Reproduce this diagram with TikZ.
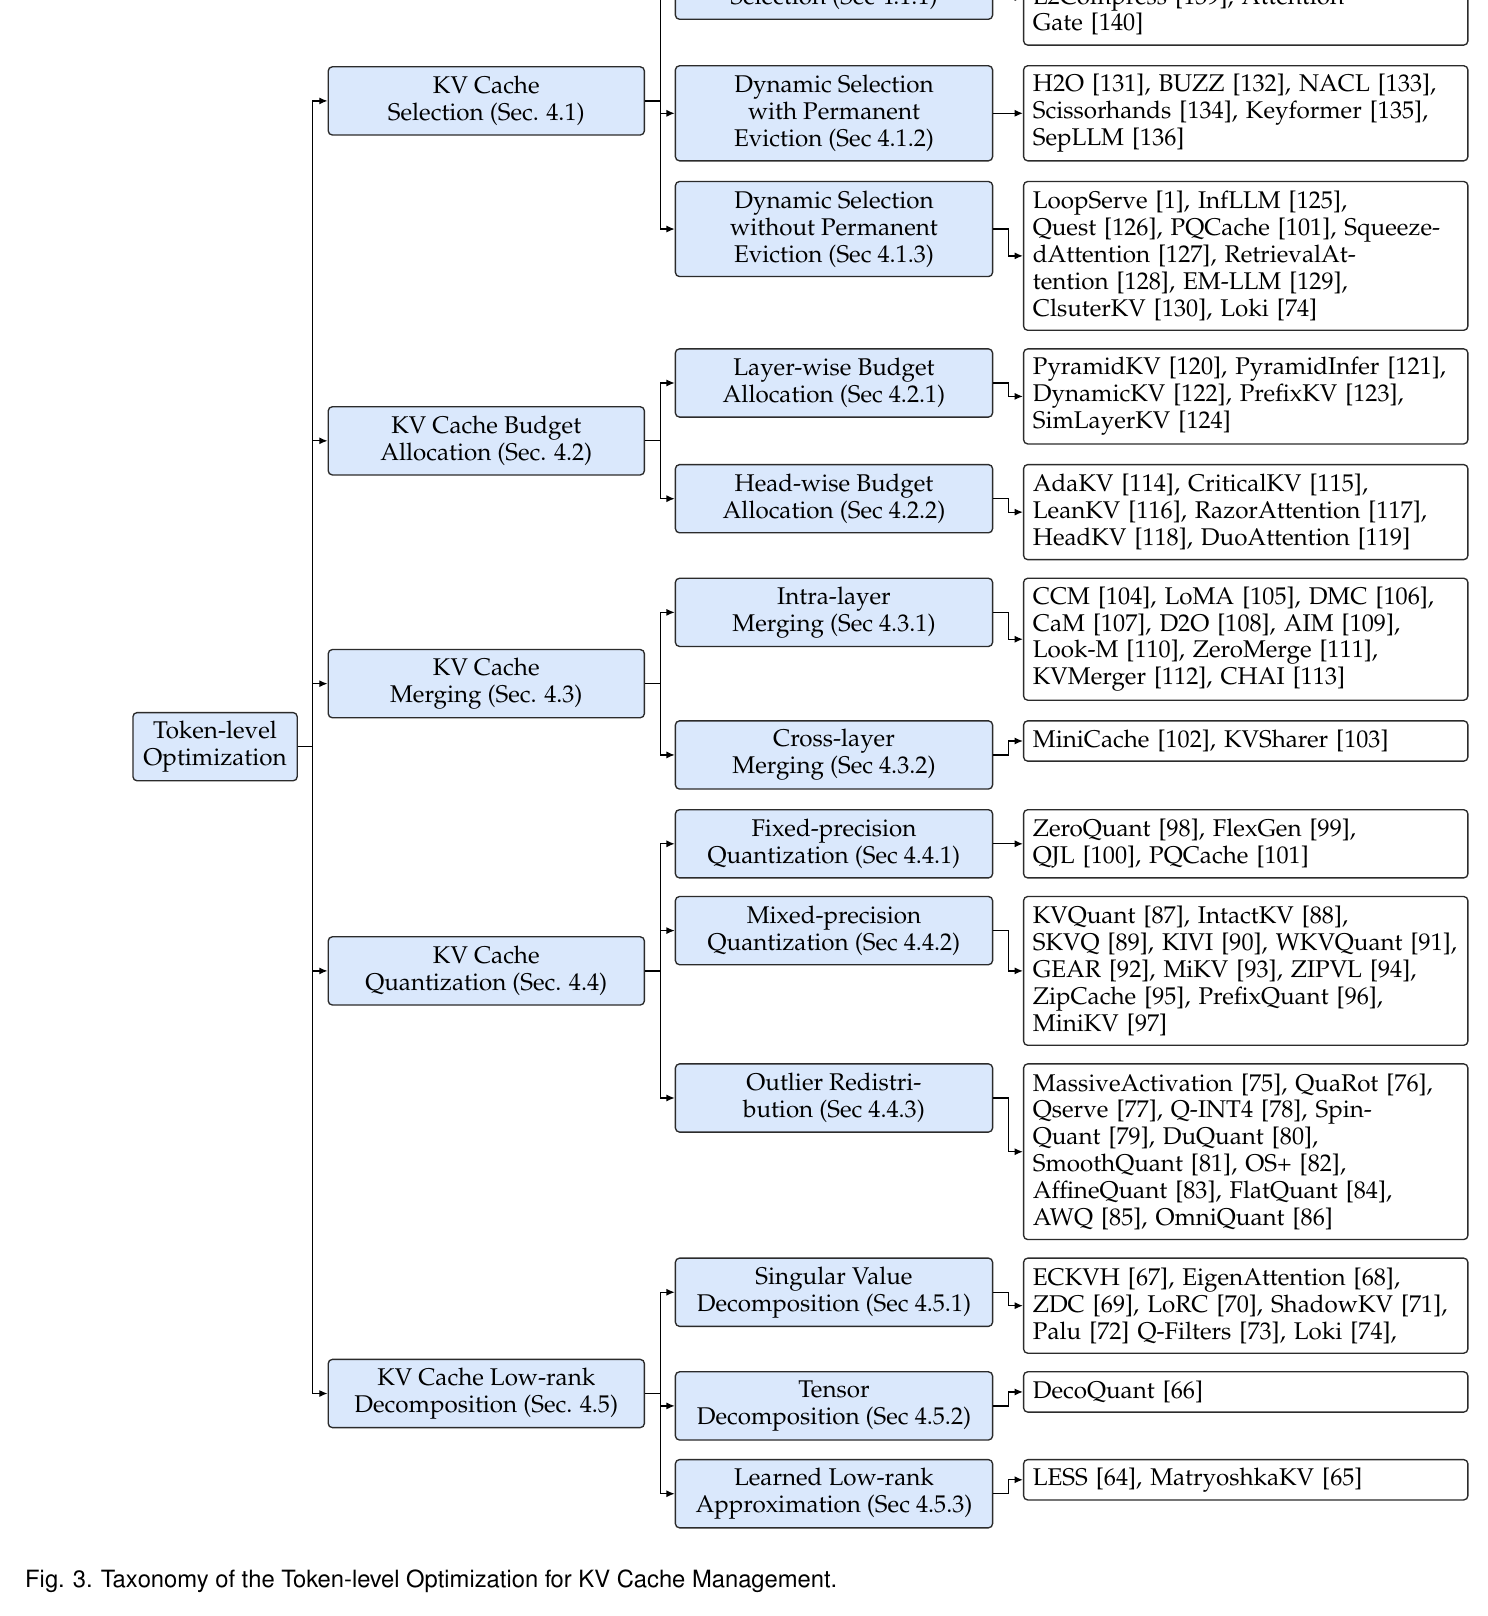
\documentclass[tikz,border=0pt]{standalone}
\usepackage[T1]{fontenc}
\usepackage{mathpazo}
\usetikzlibrary{arrows.meta}
\definecolor{boxblue}{HTML}{DAE8FC}
\definecolor{boxline}{HTML}{2B2B2B}
\tikzset{
  base/.style={draw=boxline, line width=0.65pt, rounded corners=2pt, inner xsep=4.5pt, inner ysep=1pt,
    font=\fontsize{11.7}{13}\selectfont, anchor=north west},
  catbox/.style={base, fill=boxblue, align=center},
  rootbox/.style={catbox, minimum width=79.5pt},
  lonebox/.style={catbox, minimum width=153pt},
  ltwobox/.style={catbox, minimum width=153.5pt},
  leafbox/.style={base, fill=white, align=left, text width=206pt},
  n1/.style={minimum height=19.5pt},
  n2/.style={minimum height=33pt},
  n3/.style={minimum height=46pt},
  n4/.style={minimum height=59pt},
  n5/.style={minimum height=72pt},
  n6/.style={minimum height=85pt},
  conn/.style={draw=black, line width=0.6pt, -{Latex[length=4pt,width=3.4pt]}},
}
\begin{document}
\begin{tikzpicture}[x=0.5pt, y=-0.5pt]
\useasboundingbox (0,0) rectangle (1440,1564);
% root
\node[rootbox, n2] (root) at (128,689) {Token-level\\Optimization};
% level 1
\node[lonebox, n2] (s41) at (317,64) {KV Cache\\Selection (Sec. 4.1)};
\node[lonebox, n2] (b42) at (317,393) {KV Cache Budget\\Allocation (Sec. 4.2)};
\node[lonebox, n2] (m43) at (317,628) {KV Cache\\Merging (Sec. 4.3)};
\node[lonebox, n2] (q44) at (317,906) {KV Cache\\Quantization (Sec. 4.4)};
\node[lonebox, n2] (d45) at (317,1315) {KV Cache Low-rank\\Decomposition (Sec. 4.5)};
% level 2
\node[ltwobox, n2] (s411) at (653,-48) {Static KV Cache\\Selection (Sec 4.1.1)};
\node[ltwobox, n3] (s412) at (653,63) {Dynamic Selection\\with Permanent\\Eviction (Sec 4.1.2)};
\node[ltwobox, n3] (s413) at (653,175) {Dynamic Selection\\without Permanent\\Eviction (Sec 4.1.3)};
\node[ltwobox, n2] (b421) at (653,337) {Layer-wise Budget\\Allocation (Sec 4.2.1)};
\node[ltwobox, n2] (b422) at (653,449) {Head-wise Budget\\Allocation (Sec 4.2.2)};
\node[ltwobox, n2] (m431) at (653,559) {Intra-layer\\Merging (Sec 4.3.1)};
\node[ltwobox, n2] (m432) at (653,697) {Cross-layer\\Merging (Sec 4.3.2)};
\node[ltwobox, n2] (q441) at (653,783) {Fixed-precision\\Quantization (Sec 4.4.1)};
\node[ltwobox, n2] (q442) at (653,867) {Mixed-precision\\Quantization (Sec 4.4.2)};
\node[ltwobox, n2] (q443) at (653,1029) {Outlier Redistri-\\bution (Sec 4.4.3)};
\node[ltwobox, n2] (d451) at (653,1217) {Singular Value\\Decomposition (Sec 4.5.1)};
\node[ltwobox, n2] (d452) at (653,1327) {Tensor\\Decomposition (Sec 4.5.2)};
\node[ltwobox, n2] (d453) at (653,1412) {Learned Low-rank\\Approximation (Sec 4.5.3)};
% leaves
\node[leafbox, n3] (f411) at (990,-49) {FastGen [137], SnapKV [138],\\L2Compress [139], Attention\\Gate [140]};
\node[leafbox, n3] (f412) at (990,63) {H2O [131], BUZZ [132], NACL [133],\\Scissorhands [134], Keyformer [135],\\SepLLM [136]};
\node[leafbox, n5] (f413) at (990,175) {LoopServe [1], InfLLM [125],\\Quest [126], PQCache [101], Squeeze-\\dAttention [127], RetrievalAt-\\tention [128], EM-LLM [129],\\ClsuterKV [130], Loki [74]};
\node[leafbox, n3] (f421) at (990,337) {PyramidKV [120], PyramidInfer [121],\\DynamicKV [122], PrefixKV [123],\\SimLayerKV [124]};
\node[leafbox, n3] (f422) at (990,449) {AdaKV [114], CriticalKV [115],\\LeanKV [116], RazorAttention [117],\\HeadKV [118], DuoAttention [119]};
\node[leafbox, n4] (f431) at (990,559) {CCM [104], LoMA [105], DMC [106],\\CaM [107], D2O [108], AIM [109],\\Look-M [110], ZeroMerge [111],\\KVMerger [112], CHAI [113]};
\node[leafbox, n1] (f432) at (990,697) {MiniCache [102], KVSharer [103]};
\node[leafbox, n2] (f441) at (990,783) {ZeroQuant [98], FlexGen [99],\\QJL [100], PQCache [101]};
\node[leafbox, n5] (f442) at (990,867) {KVQuant [87], IntactKV [88],\\SKVQ [89], KIVI [90], WKVQuant [91],\\GEAR [92], MiKV [93], ZIPVL [94],\\ZipCache [95], PrefixQuant [96],\\MiniKV [97]};
\node[leafbox, n6] (f443) at (990,1029) {MassiveActivation [75], QuaRot [76],\\Qserve [77], Q-INT4 [78], Spin-\\Quant [79], DuQuant [80],\\SmoothQuant [81], OS+ [82],\\AffineQuant [83], FlatQuant [84],\\AWQ [85], OmniQuant [86]};
\node[leafbox, n3] (f451) at (990,1217) {ECKVH [67], EigenAttention [68],\\ZDC [69], LoRC [70], ShadowKV [71],\\Palu [72] Q-Filters [73], Loki [74],};
\node[leafbox, n1] (f452) at (990,1327) {DecoQuant [66]};
\node[leafbox, n1] (f453) at (990,1412) {LESS [64], MatryoshkaKV [65]};
% caption
\node[anchor=base west, inner sep=0pt, font=\fontfamily{phv}\fontsize{11.5}{13}\selectfont] (cap) at (24,1536) {Fig. 3. Taxonomy of the Token-level Optimization for KV Cache Management.};
% connectors root -> level 1
\foreach \c in {s41,b42,m43,q44,d45} \draw[conn] (root.east) -- ++(14,0) |- (\c.west);
% level 1 -> level 2
\foreach \c in {s411,s412,s413} \draw[conn] (s41.east) -- ++(15,0) |- (\c.west);
\foreach \c in {b421,b422} \draw[conn] (b42.east) -- ++(15,0) |- (\c.west);
\foreach \c in {m431,m432} \draw[conn] (m43.east) -- ++(15,0) |- (\c.west);
\foreach \c in {q441,q442,q443} \draw[conn] (q44.east) -- ++(15,0) |- (\c.west);
\foreach \c in {d451,d452,d453} \draw[conn] (d45.east) -- ++(15,0) |- (\c.west);
% level 2 -> leaves
\foreach \a/\b in {s411/f411,s412/f412,s413/f413,b421/f421,b422/f422,m431/f431,m432/f432,q441/f441,q442/f442,q443/f443,d451/f451,d452/f452,d453/f453}
  \draw[conn] (\a.east) -- ++(15,0) |- (\b.west);
\end{tikzpicture}
\end{document}
